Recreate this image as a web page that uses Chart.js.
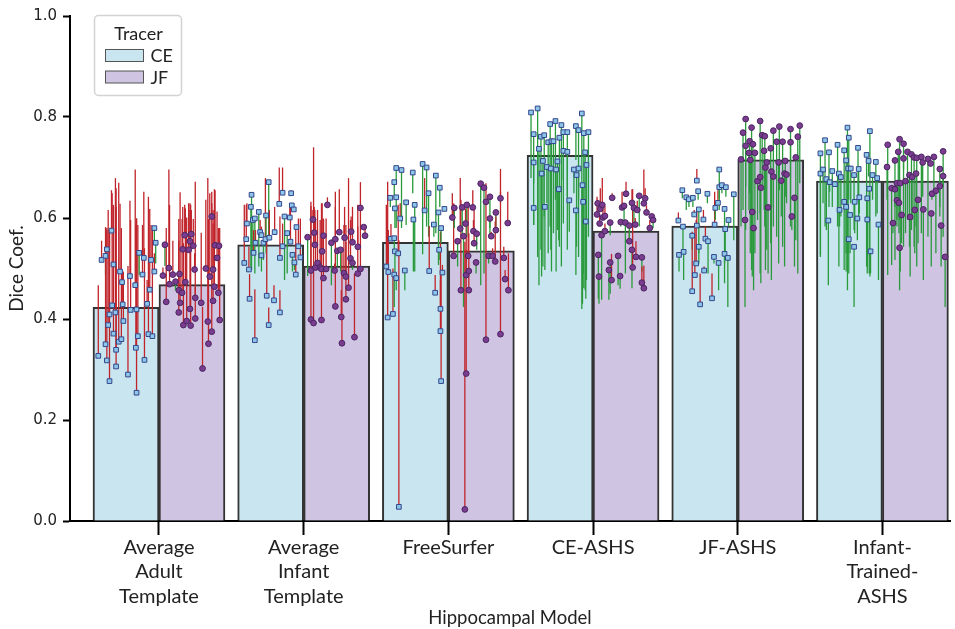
<!DOCTYPE html>
<html>
<head>
<meta charset="utf-8">
<script src="https://cdn.jsdelivr.net/npm/chart.js@4.4.0/dist/chart.umd.min.js"></script>
<style>
html, body { margin: 0; padding: 0; background: #fff; }
#wrap { width: 955px; height: 629px; }
</style>
</head>
<body>
<div id="wrap"><canvas id="grafico" width="955" height="629"></canvas></div>
<script>
// categorias e medias das barras
var modelos = [["Average", "Adult", "Template"], ["Average", "Infant", "Template"], "FreeSurfer", "CE-ASHS", "JF-ASHS", ["Infant-", "Trained-", "ASHS"]]
var tracers = ["CE", "JF"]
var mediasCE = [0.423, 0.547, 0.552, 0.724, 0.584, 0.673]
var mediasJF = [0.468, 0.505, 0.535, 0.574, 0.715, 0.673]
var ticksY = [0, 0.2, 0.4, 0.6, 0.8, 1.0]

// cada sujeito: [deslocamento dentro da barra, dice, dice do outro modelo]
var aatCE = [[-0.42,0.327,0.467],[-0.37,0.517,0.555],[-0.31,0.525,0.487],[-0.31,0.350,0.582],[-0.29,0.538,0.580],[-0.29,0.318,0.576],[-0.27,0.388,0.616],[-0.25,0.409,0.576],[-0.25,0.277,0.576],[-0.22,0.575,0.655],[-0.21,0.427,0.649],[-0.19,0.508,0.622],[-0.19,0.371,0.626],[-0.16,0.413,0.679],[-0.15,0.339,0.622],[-0.15,0.306,0.659],[-0.11,0.355,0.670],[-0.09,0.494,0.628],[-0.07,0.360,0.580],[-0.06,0.473,0.490],[-0.05,0.429,0.490],[-0.04,0.396,0.494],[0.03,0.290,0.505],[0.06,0.485,0.634],[0.07,0.418,0.596],[0.14,0.467,0.696],[0.15,0.343,0.586],[0.16,0.254,0.599],[0.16,0.419,0.599],[0.18,0.366,0.586],[0.20,0.531,0.487],[0.25,0.488,0.586],[0.27,0.521,0.652],[0.28,0.319,0.540],[0.32,0.430,0.477],[0.34,0.370,0.642],[0.36,0.458,0.618],[0.38,0.517,0.586],[0.40,0.366,0.578],[0.43,0.494,0.530],[0.43,0.580,0.553],[0.45,0.551,0.510]]
var aatJF = [[-0.44,0.486,0.502],[-0.41,0.547,0.505],[-0.39,0.434,0.580],[-0.35,0.501,0.696],[-0.34,0.469,0.626],[-0.29,0.488,0.555],[-0.25,0.474,0.457],[-0.20,0.457,0.598],[-0.20,0.413,0.555],[-0.19,0.489,0.494],[-0.18,0.432,0.651],[-0.15,0.452,0.598],[-0.14,0.538,0.622],[-0.13,0.388,0.550],[-0.11,0.566,0.626],[-0.10,0.473,0.619],[-0.08,0.396,0.601],[-0.05,0.537,0.629],[-0.03,0.554,0.629],[-0.03,0.420,0.616],[-0.02,0.387,0.626],[-0.01,0.568,0.616],[0.02,0.545,0.598],[0.04,0.498,0.530],[0.05,0.442,0.672],[0.05,0.401,0.464],[0.14,0.432,0.571],[0.16,0.302,0.424],[0.21,0.500,0.636],[0.24,0.395,0.679],[0.25,0.351,0.598],[0.27,0.484,0.649],[0.30,0.603,0.652],[0.30,0.375,0.629],[0.32,0.498,0.616],[0.32,0.436,0.589],[0.34,0.464,0.657],[0.35,0.546,0.655],[0.38,0.521,0.613],[0.40,0.452,0.580],[0.41,0.545,0.555],[0.42,0.398,0.580]]
var aitCE = [[-0.40,0.511,0.626],[-0.37,0.558,0.626],[-0.36,0.589,0.629],[-0.33,0.498,0.543],[-0.32,0.440,0.489],[-0.30,0.622,0.504],[-0.29,0.646,0.497],[-0.27,0.596,0.530],[-0.26,0.531,0.576],[-0.24,0.599,0.490],[-0.24,0.358,0.459],[-0.23,0.551,0.576],[-0.18,0.612,0.504],[-0.16,0.572,0.596],[-0.14,0.526,0.494],[-0.14,0.566,0.583],[-0.11,0.551,0.517],[-0.08,0.558,0.679],[-0.07,0.605,0.530],[-0.06,0.446,0.563],[-0.03,0.388,0.423],[-0.03,0.671,0.563],[-0.02,0.561,0.616],[0.05,0.437,0.467],[0.06,0.572,0.622],[0.13,0.628,0.700],[0.14,0.521,0.603],[0.14,0.413,0.457],[0.18,0.650,0.700],[0.18,0.544,0.589],[0.21,0.603,0.477],[0.25,0.570,0.490],[0.29,0.601,0.622],[0.30,0.553,0.622],[0.31,0.649,0.655],[0.32,0.625,0.629],[0.33,0.527,0.494],[0.35,0.617,0.619],[0.36,0.512,0.497],[0.38,0.488,0.583],[0.39,0.582,0.586],[0.42,0.544,0.599],[0.45,0.522,0.599]]
var aitJF = [[-0.44,0.562,0.485],[-0.39,0.496,0.632],[-0.39,0.399,0.624],[-0.36,0.597,0.616],[-0.35,0.392,0.740],[-0.34,0.571,0.622],[-0.33,0.547,0.616],[-0.32,0.502,0.599],[-0.29,0.511,0.616],[-0.25,0.502,0.596],[-0.23,0.499,0.596],[-0.23,0.398,0.629],[-0.22,0.534,0.629],[-0.20,0.565,0.599],[-0.20,0.481,0.596],[-0.16,0.499,0.599],[-0.14,0.626,0.641],[-0.08,0.551,0.467],[-0.03,0.496,0.510],[-0.02,0.558,0.652],[-0.02,0.425,0.622],[0.01,0.535,0.504],[0.04,0.572,0.657],[0.06,0.537,0.494],[0.07,0.404,0.457],[0.08,0.352,0.540],[0.11,0.491,0.586],[0.12,0.561,0.622],[0.14,0.439,0.553],[0.14,0.484,0.586],[0.18,0.462,0.679],[0.21,0.520,0.596],[0.22,0.573,0.603],[0.24,0.511,0.497],[0.24,0.552,0.622],[0.27,0.364,0.490],[0.32,0.490,0.626],[0.32,0.543,0.583],[0.36,0.620,0.671],[0.36,0.499,0.622],[0.41,0.582,0.586],[0.43,0.565,0.583]]
var fsCE = [[-0.44,0.504,0.626],[-0.42,0.403,0.672],[-0.41,0.493,0.576],[-0.38,0.640,0.622],[-0.37,0.559,0.588],[-0.34,0.410,0.500],[-0.32,0.671,0.639],[-0.32,0.488,0.424],[-0.32,0.560,0.530],[-0.31,0.534,0.490],[-0.31,0.619,0.580],[-0.29,0.641,0.580],[-0.29,0.699,0.669],[-0.29,0.481,0.457],[-0.26,0.530,0.626],[-0.25,0.028,0.556],[-0.23,0.599,0.629],[-0.21,0.695,0.580],[-0.16,0.496,0.457],[-0.14,0.631,0.586],[-0.04,0.690,0.649],[-0.03,0.597,0.494],[-0.01,0.626,0.494],[0.11,0.707,0.528],[0.14,0.615,0.679],[0.17,0.700,0.583],[0.20,0.649,0.563],[0.21,0.495,0.584],[0.28,0.587,0.563],[0.30,0.452,0.487],[0.31,0.684,0.570],[0.35,0.611,0.507],[0.36,0.537,0.517],[0.37,0.660,0.622],[0.38,0.376,0.573],[0.38,0.420,0.477],[0.39,0.277,0.487],[0.39,0.580,0.550],[0.41,0.492,0.507],[0.44,0.618,0.622]]
var fsJF = [[-0.44,0.601,0.649],[-0.42,0.525,0.629],[-0.41,0.620,0.580],[-0.36,0.554,0.504],[-0.32,0.579,0.679],[-0.31,0.457,0.636],[-0.29,0.621,0.570],[-0.27,0.564,0.424],[-0.25,0.023,0.553],[-0.24,0.589,0.619],[-0.23,0.487,0.537],[-0.23,0.292,0.616],[-0.22,0.626,0.563],[-0.20,0.525,0.632],[-0.19,0.495,0.570],[-0.19,0.457,0.497],[-0.13,0.621,0.655],[-0.12,0.574,0.596],[-0.11,0.550,0.616],[-0.08,0.512,0.490],[-0.07,0.569,0.537],[-0.01,0.668,0.467],[0.04,0.660,0.490],[0.07,0.632,0.669],[0.07,0.359,0.632],[0.11,0.525,0.510],[0.13,0.642,0.580],[0.13,0.599,0.566],[0.15,0.564,0.573],[0.17,0.525,0.540],[0.21,0.514,0.593],[0.22,0.611,0.583],[0.22,0.576,0.603],[0.29,0.370,0.697],[0.29,0.639,0.652],[0.34,0.521,0.543],[0.36,0.479,0.497],[0.40,0.590,0.652],[0.41,0.457,0.530]]
var ceCE = [[-0.44,0.809,0.679],[-0.40,0.766,0.586],[-0.40,0.710,0.669],[-0.40,0.620,0.586],[-0.34,0.817,0.523],[-0.32,0.737,0.467],[-0.29,0.761,0.537],[-0.28,0.688,0.484],[-0.26,0.713,0.504],[-0.24,0.764,0.603],[-0.23,0.622,0.497],[-0.20,0.701,0.629],[-0.18,0.750,0.530],[-0.15,0.786,0.583],[-0.14,0.698,0.537],[-0.13,0.752,0.494],[-0.10,0.752,0.570],[-0.07,0.792,0.636],[-0.06,0.696,0.494],[-0.04,0.712,0.576],[-0.02,0.657,0.556],[-0.01,0.759,0.543],[0.02,0.784,0.504],[0.05,0.770,0.675],[0.05,0.733,0.589],[0.11,0.770,0.642],[0.11,0.731,0.537],[0.14,0.635,0.573],[0.21,0.696,0.649],[0.24,0.782,0.715],[0.24,0.615,0.487],[0.25,0.685,0.543],[0.28,0.698,0.523],[0.28,0.774,0.636],[0.33,0.807,0.420],[0.34,0.665,0.430],[0.35,0.632,0.490],[0.36,0.768,0.461],[0.38,0.730,0.457],[0.39,0.593,0.440],[0.40,0.705,0.477],[0.43,0.770,0.563]]
var ceJF = [[-0.44,0.607,0.642],[-0.43,0.629,0.636],[-0.42,0.527,0.440],[-0.41,0.484,0.430],[-0.40,0.589,0.607],[-0.39,0.618,0.659],[-0.37,0.566,0.438],[-0.36,0.626,0.679],[-0.35,0.601,0.624],[-0.32,0.604,0.624],[-0.32,0.574,0.589],[-0.26,0.497,0.438],[-0.24,0.512,0.450],[-0.24,0.591,0.566],[-0.22,0.477,0.529],[-0.21,0.640,0.649],[-0.12,0.525,0.467],[-0.09,0.485,0.460],[-0.08,0.592,0.583],[-0.06,0.621,0.652],[-0.03,0.624,0.585],[-0.01,0.591,0.490],[0.00,0.648,0.672],[0.05,0.554,0.576],[0.05,0.585,0.550],[0.09,0.537,0.461],[0.09,0.630,0.657],[0.10,0.502,0.657],[0.12,0.620,0.587],[0.14,0.587,0.600],[0.15,0.523,0.554],[0.17,0.616,0.634],[0.20,0.644,0.583],[0.24,0.522,0.494],[0.24,0.472,0.504],[0.27,0.461,0.506],[0.27,0.629,0.696],[0.29,0.639,0.659],[0.31,0.611,0.625],[0.36,0.580,0.596],[0.39,0.603,0.609],[0.41,0.596,0.580]]
var jfCE = [[-0.40,0.595,0.611],[-0.39,0.527,0.494],[-0.34,0.655,0.639],[-0.33,0.583,0.537],[-0.32,0.533,0.477],[-0.28,0.641,0.616],[-0.24,0.637,0.622],[-0.19,0.565,0.537],[-0.19,0.455,0.573],[-0.18,0.640,0.622],[-0.16,0.607,0.616],[-0.15,0.487,0.589],[-0.13,0.510,0.596],[-0.12,0.674,0.697],[-0.12,0.585,0.616],[-0.10,0.653,0.636],[-0.09,0.617,0.530],[-0.09,0.543,0.510],[-0.07,0.429,0.490],[-0.02,0.597,0.616],[-0.01,0.496,0.504],[0.01,0.559,0.583],[0.04,0.648,0.629],[0.05,0.554,0.490],[0.11,0.441,0.490],[0.14,0.523,0.510],[0.15,0.587,0.652],[0.16,0.620,0.596],[0.20,0.630,0.655],[0.21,0.511,0.457],[0.22,0.696,0.639],[0.22,0.661,0.616],[0.26,0.665,0.649],[0.30,0.618,0.510],[0.30,0.529,0.471],[0.31,0.578,0.523],[0.32,0.661,0.642],[0.35,0.521,0.424],[0.36,0.596,0.583],[0.44,0.647,0.556]]
var jfJF = [[-0.45,0.716,0.583],[-0.42,0.769,0.616],[-0.39,0.596,0.424],[-0.38,0.796,0.662],[-0.38,0.743,0.576],[-0.33,0.729,0.616],[-0.32,0.752,0.649],[-0.31,0.715,0.530],[-0.29,0.779,0.497],[-0.28,0.612,0.484],[-0.27,0.746,0.570],[-0.26,0.580,0.457],[-0.24,0.729,0.530],[-0.20,0.673,0.596],[-0.16,0.681,0.490],[-0.16,0.792,0.609],[-0.15,0.660,0.471],[-0.13,0.764,0.655],[-0.10,0.733,0.616],[-0.09,0.762,0.583],[-0.08,0.700,0.497],[-0.06,0.710,0.537],[-0.04,0.621,0.490],[0.00,0.738,0.550],[0.01,0.692,0.477],[0.04,0.682,0.583],[0.04,0.773,0.622],[0.09,0.751,0.563],[0.12,0.710,0.510],[0.13,0.781,0.655],[0.16,0.674,0.603],[0.18,0.751,0.543],[0.21,0.688,0.504],[0.22,0.713,0.642],[0.24,0.686,0.629],[0.30,0.776,0.616],[0.30,0.750,0.583],[0.32,0.603,0.576],[0.36,0.640,0.504],[0.38,0.720,0.556],[0.41,0.761,0.490],[0.44,0.783,0.669]]
var itCE = [[-0.44,0.728,0.527],[-0.44,0.688,0.523],[-0.40,0.696,0.629],[-0.37,0.754,0.583],[-0.35,0.677,0.576],[-0.32,0.595,0.467],[-0.31,0.730,0.622],[-0.30,0.671,0.652],[-0.26,0.693,0.622],[-0.22,0.667,0.662],[-0.18,0.745,0.583],[-0.16,0.688,0.504],[-0.15,0.616,0.583],[-0.13,0.681,0.603],[-0.08,0.632,0.497],[-0.08,0.734,0.629],[-0.05,0.714,0.530],[-0.05,0.622,0.494],[-0.03,0.779,0.457],[-0.02,0.698,0.530],[-0.01,0.759,0.636],[-0.01,0.558,0.490],[0.01,0.606,0.530],[0.02,0.698,0.629],[0.07,0.685,0.576],[0.07,0.543,0.424],[0.08,0.632,0.570],[0.12,0.599,0.556],[0.13,0.739,0.636],[0.14,0.697,0.596],[0.15,0.641,0.609],[0.26,0.725,0.504],[0.27,0.639,0.504],[0.27,0.597,0.490],[0.29,0.713,0.682],[0.30,0.658,0.490],[0.31,0.772,0.484],[0.32,0.534,0.490],[0.35,0.685,0.636],[0.40,0.711,0.603],[0.42,0.679,0.609],[0.44,0.587,0.477]]
var itJF = [[-0.43,0.701,0.636],[-0.42,0.745,0.487],[-0.36,0.659,0.507],[-0.34,0.590,0.570],[-0.31,0.714,0.622],[-0.31,0.657,0.517],[-0.28,0.669,0.596],[-0.28,0.635,0.583],[-0.26,0.731,0.629],[-0.25,0.630,0.570],[-0.24,0.756,0.596],[-0.24,0.541,0.457],[-0.23,0.669,0.494],[-0.21,0.606,0.550],[-0.18,0.747,0.695],[-0.18,0.718,0.543],[-0.15,0.673,0.570],[-0.12,0.731,0.596],[-0.09,0.685,0.543],[-0.08,0.602,0.484],[-0.06,0.726,0.576],[-0.05,0.681,0.596],[-0.02,0.720,0.543],[-0.01,0.616,0.530],[0.01,0.688,0.583],[0.02,0.719,0.504],[0.04,0.636,0.550],[0.09,0.721,0.570],[0.11,0.710,0.642],[0.12,0.617,0.477],[0.19,0.717,0.563],[0.23,0.708,0.702],[0.24,0.609,0.504],[0.25,0.648,0.636],[0.28,0.721,0.642],[0.31,0.654,0.530],[0.37,0.697,0.622],[0.37,0.663,0.603],[0.39,0.585,0.504],[0.42,0.683,0.662],[0.42,0.732,0.563],[0.45,0.523,0.424]]

var sujeitosCE = [aatCE, aitCE, fsCE, ceCE, jfCE, itCE]
var sujeitosJF = [aatJF, aitJF, fsJF, ceJF, jfJF, itJF]

var corCE = '#c9e6f0'
var corJF = '#cfc5e2'
var vermelho = '#c0242b'
var verde = '#2a9a3c'

// meia largura do grupo: as duas barras ocupam 0.912 da categoria
var desloc = 0.228
var largura = 0.456

function barras(medias, lado){
    return medias.map(function(v, i){ return {x: i + lado*desloc, y: v} })
}
function pontos(grupos, lado){
    var out = []
    grupos.forEach(function(g, i){
        g.forEach(function(s){ out.push({x: i + lado*desloc + s[0]*largura, y: s[1]}) })
    })
    return out
}
function linhas(grupos, lado){
    var out = []
    grupos.forEach(function(g, i){
        g.forEach(function(s){
            var x = i + lado*desloc + s[0]*largura
            out.push({x: x, y: s[1]})
            out.push({x: x, y: s[2]})
            out.push({x: x, y: null})
        })
    })
    return out
}

var legendaTracer = {
    id: 'legendaTracer',
    afterDraw: function(chart){
        var ctx = chart.ctx
        var a = chart.chartArea
        var bx = a.left + 24.5, by = a.top - 0.5
        ctx.save()
        ctx.beginPath()
        ctx.roundRect(bx, by, 87, 80, 4)
        ctx.fillStyle = 'rgba(255,255,255,0.85)'
        ctx.fill()
        ctx.lineWidth = 1.5
        ctx.strokeStyle = '#d3d3d3'
        ctx.stroke()
        ctx.fillStyle = '#222'
        ctx.font = '18px Lato'
        ctx.textAlign = 'center'
        ctx.textBaseline = 'alphabetic'
        ctx.fillText('Tracer', bx + 44, by + 24)
        ctx.textAlign = 'left'
        var cores = [corCE, corJF]
        tracers.forEach(function(t, k){
            var sy = by + 34 + k*21.5
            ctx.fillStyle = cores[k]
            ctx.fillRect(bx + 11, sy, 38, 12)
            ctx.lineWidth = 1
            ctx.strokeStyle = '#555'
            ctx.strokeRect(bx + 11, sy, 38, 12)
            ctx.fillStyle = '#222'
            ctx.fillText(t, bx + 56, sy + 12.5)
        })
        ctx.restore()
    }
}

function corSegmento(c){
    return c.p1.parsed.y > c.p0.parsed.y ? vermelho : verde
}

var ctx = document.getElementById('grafico').getContext('2d')
var grafico = new Chart(ctx, {
    type: 'bar',
    data: {
        datasets: [
            {
                type: 'scatter', label: 'CE pts', data: pontos(sujeitosCE, -1), order: 1,
                pointStyle: 'rect', pointRadius: 3.3, backgroundColor: '#8cc6e8', borderColor: '#34468c', borderWidth: 1
            },
            {
                type: 'scatter', label: 'JF pts', data: pontos(sujeitosJF, 1), order: 1,
                pointStyle: 'circle', pointRadius: 2.9, backgroundColor: '#7a3c8e', borderColor: '#4c2563', borderWidth: 1
            },
            {
                type: 'line', label: 'CE lin', data: linhas(sujeitosCE, -1), order: 2,
                pointRadius: 0, borderWidth: 1.3, spanGaps: false, borderColor: vermelho,
                segment: {borderColor: corSegmento}
            },
            {
                type: 'line', label: 'JF lin', data: linhas(sujeitosJF, 1), order: 2,
                pointRadius: 0, borderWidth: 1.3, spanGaps: false, borderColor: vermelho,
                segment: {borderColor: corSegmento}
            },
            {
                label: 'CE', data: barras(mediasCE, -1), order: 3, grouped: false,
                barThickness: 66, backgroundColor: corCE, borderColor: '#333', borderWidth: 2
            },
            {
                label: 'JF', data: barras(mediasJF, 1), order: 3, grouped: false,
                barThickness: 66, backgroundColor: corJF, borderColor: '#333', borderWidth: 2
            }
        ]
    },
    options: {
        responsive: false,
        animation: false,
        devicePixelRatio: 1,
        layout: {padding: {top: 16, right: 0, bottom: 0, left: 0}},
        plugins: {legend: {display: false}, tooltip: {enabled: false}},
        scales: {
            x: {
                type: 'linear',
                offset: false,
                min: -0.615,
                max: 5.467,
                afterBuildTicks: function(s){ s.ticks = modelos.map(function(m, i){ return {value: i} }) },
                afterFit: function(s){ s.height = 108 },
                grid: {offset: false, drawOnChartArea: false, drawTicks: true, tickLength: 14, tickWidth: 2, tickColor: '#000'},
                border: {display: true, width: 2, color: '#000'},
                ticks: {
                    autoSkip: false, maxRotation: 0, padding: 0, color: '#222',
                    font: {family: 'Lato', size: 20, lineHeight: 1.23},
                    callback: function(v){ return modelos[v] }
                },
                title: {display: true, text: 'Hippocampal Model', color: '#222', font: {family: 'Lato', size: 18.5}, padding: {top: 0, bottom: 0}}
            },
            y: {
                min: 0,
                max: 1,
                afterBuildTicks: function(s){ s.ticks = ticksY.map(function(v){ return {value: v} }) },
                afterFit: function(s){ s.width = 70 },
                grid: {drawOnChartArea: false, drawTicks: true, tickLength: 7, tickWidth: 2, tickColor: '#000'},
                border: {display: true, width: 2, color: '#000'},
                ticks: {
                    padding: 6, color: '#222',
                    font: {family: 'DejaVu Sans', size: 15},
                    callback: function(v){ return v.toFixed(1) }
                },
                title: {display: true, text: 'Dice Coef.', color: '#222', font: {family: 'Lato', size: 19}, padding: {top: 5, bottom: 0}}
            }
        }
    },
    plugins: [legendaTracer]
})
</script>
</body>
</html>
